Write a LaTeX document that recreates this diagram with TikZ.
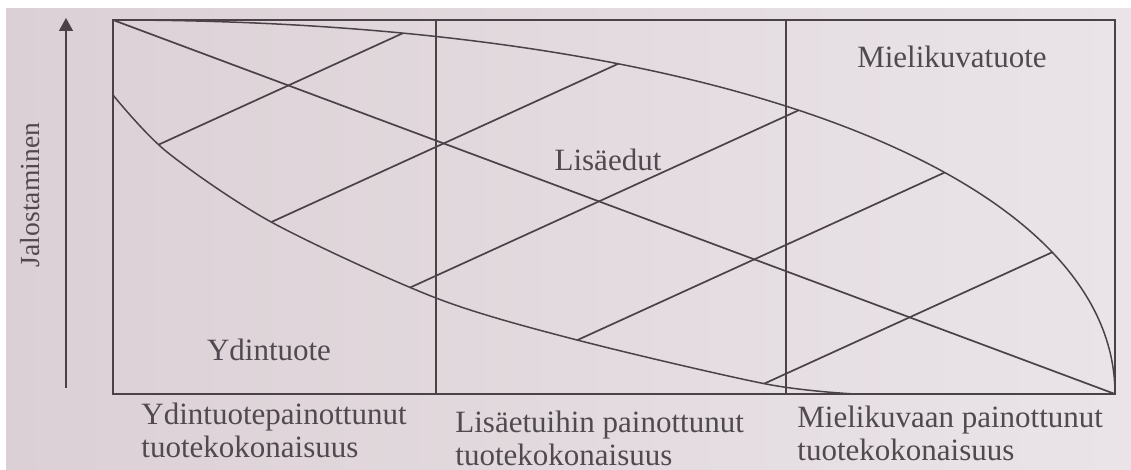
\documentclass[tikz,border=0pt]{standalone}
\usepackage{fontspec}
\setmainfont{Liberation Serif}
\usepackage{tikz}
\usetikzlibrary{calc,arrows.meta}
\definecolor{ink}{RGB}{74,66,72}
\definecolor{txt}{RGB}{80,74,80}
\definecolor{paperL}{RGB}{219,208,213}
\definecolor{paperR}{RGB}{234,228,232}
\tikzset{
frameline/.style={draw=ink,line width=1.4pt},
curveline/.style={draw=ink,line width=0.75pt},
latticeline/.style={draw=ink,line width=0.85pt},
areaname/.style={font=\fontsize{15.5}{16.5}\selectfont,text=txt,inner sep=0pt},
colname/.style={font=\fontsize{15.5}{16.5}\selectfont,text=txt,align=left,anchor=north west,inner sep=0pt},
axisarrow/.style={draw=ink,line width=0.7pt,-{Triangle[length=6.5pt,width=7pt]}}
}

\begin{document}
\begin{tikzpicture}[x=0.5pt,y=-0.5pt]
\useasboundingbox (0,0) rectangle (1131,470);
\fill[white] (0,0) rectangle (1131,470);
\shade[left color=paperL,right color=paperR] (6,9) rectangle (1131,470);
\coordinate (tl) at (113,20);
\coordinate (br) at (1115,394);
% lattice between the two curves
\begin{scope}
\clip plot[smooth] coordinates {(113,95) (167,152) (273,223) (436,298) (577,340) (766,384) (855,394)}
  -- (br) .. controls (1115,174) and (713,20) .. (tl) -- cycle;
\foreach \f in {0.175,0.33,0.485,0.64,0.795}
  \draw[latticeline] ($(tl)!\f!(br)+(-320,146)$) -- ($(tl)!\f!(br)+(320,-146)$);
\end{scope}
\draw[latticeline] (tl) -- (br);
\draw[curveline] (tl) .. controls (713,20) and (1115,174) .. (br);
\draw[curveline] plot[smooth] coordinates {(113,95) (167,152) (273,223) (436,298) (577,340) (766,384) (855,394)};
% frame and columns
\draw[frameline] (tl) rectangle (br);
\foreach \x in {436,786}
  \draw[frameline] (\x,20) -- (\x,394);
\node[areaname] (ydin) at (269,350) {Ydintuote};
\node[areaname] (lisa) at (608,160) {Lisäedut};
\node[areaname] (mieli) at (952,57) {Mielikuvatuote};
\node[colname] (colA) at (141,403) {Ydintuotepainottunut\\tuotekokonaisuus};
\node[colname] (colB) at (455,411) {Lisäetuihin painottunut\\tuotekokonaisuus};
\node[colname] (colC) at (797,406) {Mielikuvaan painottunut\\tuotekokonaisuus};
% axis
\coordinate (ax0) at (66,388);
\coordinate (ax1) at (66,18);
\draw[axisarrow] (ax0) -- (ax1);
\node[areaname,font=\fontsize{13.8}{15}\selectfont,rotate=90] (jalo) at (30,195) {Jalostaminen};
\end{tikzpicture}
\end{document}
